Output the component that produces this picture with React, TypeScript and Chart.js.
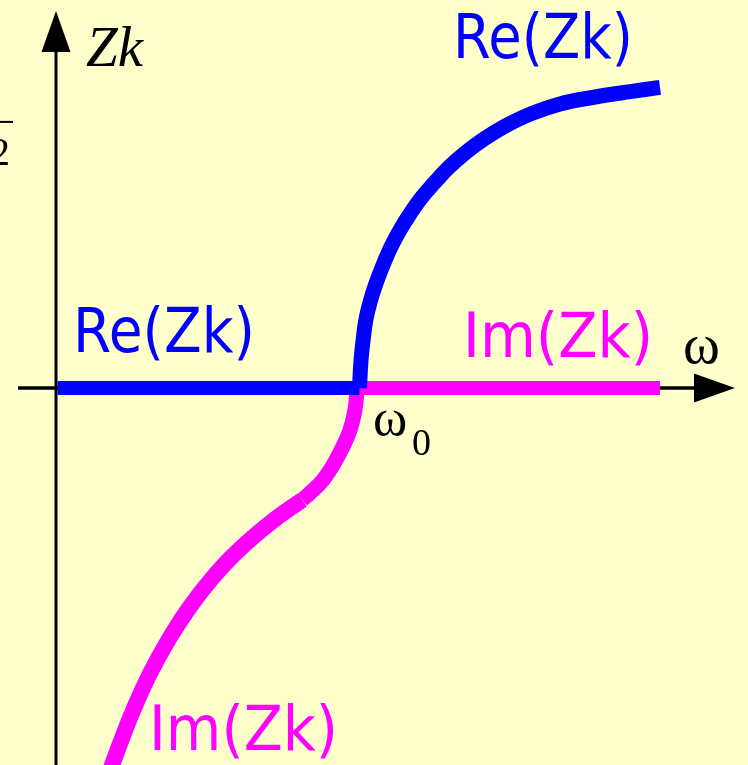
import React, { useEffect, useRef } from "react";
import { Chart, registerables } from "chart.js";

Chart.register(...registerables);

// Frequency axis: ω in units of the cut-off ω0; impedance Zk in arbitrary units.
const reFlatW = [0.005, 1.005];
const reFlatZ = [0, 0];

const reCurveW = [
  1.005, 1.01, 1.017, 1.026, 1.04, 1.06, 1.083, 1.109, 1.139, 1.172, 1.209,
  1.252, 1.298, 1.354, 1.417, 1.487, 1.57, 1.669, 1.785, 1.901, 2.0,
];
const reCurveZ = [
  0, 0.093, 0.16, 0.227, 0.287, 0.35, 0.41, 0.47, 0.527, 0.58, 0.633,
  0.683, 0.733, 0.783, 0.83, 0.873, 0.913, 0.947, 0.97, 0.988, 1.002,
];

const imFlatW = [1.0, 2.0];
const imFlatZ = [0, 0];

const imUpperW = [0.997, 0.99, 0.97, 0.927, 0.884, 0.841, 0.815];
const imUpperZ = [0, -0.073, -0.15, -0.24, -0.307, -0.35, -0.373];

const imLowerW = [0.815, 0.713, 0.598, 0.518, 0.443, 0.378, 0.312, 0.256, 0.214, 0.188, 0.177];
const imLowerZ = [-0.373, -0.447, -0.547, -0.633, -0.73, -0.83, -0.95, -1.073, -1.18, -1.25, -1.28];

const BG = "#FFFFCC";
const BLUE = "#0000FF";
const MAGENTA = "#FF00FF";
const LABEL_FONT = '"DejaVu Sans", sans-serif';
const MATH_FONT = '"Liberation Serif", "DejaVu Serif", serif';

const pts = (xs: number[], ys: number[]) => xs.map((x, i) => ({ x, y: ys[i] }));

const curve = (xs: number[], ys: number[], color: string, smooth: boolean, width = 15) => ({
  data: pts(xs, ys),
  borderColor: color,
  borderWidth: width,
  borderCapStyle: "butt" as const,
  borderJoinStyle: "round" as const,
  pointRadius: 0,
  tension: smooth ? 0.4 : 0,
  fill: false,
});

const backgroundPlugin = {
  id: "paper",
  beforeDraw(chart: any) {
    const { ctx, width, height } = chart;
    ctx.save();
    ctx.fillStyle = BG;
    ctx.fillRect(0, 0, width, height);
    ctx.restore();
  },
};

// Coordinate axes with arrow heads, drawn under the curves.
const axesPlugin = {
  id: "arrowAxes",
  beforeDatasetsDraw(chart: any) {
    const { ctx, scales, height } = chart;
    const xs = scales.x;
    const ys = scales.y;
    const x0 = xs.getPixelForValue(0);
    const y0 = ys.getPixelForValue(0);
    const xStart = xs.getPixelForValue(-0.1258);
    const xTip = xs.getPixelForValue(2.2483);
    const yTip = ys.getPixelForValue(1.2567);
    const head = 41;
    const half = 14.5;
    ctx.save();
    ctx.strokeStyle = "#000";
    ctx.fillStyle = "#000";
    ctx.lineWidth = 3.5;
    ctx.beginPath();
    ctx.moveTo(xStart, y0);
    ctx.lineTo(xTip - head + 2, y0);
    ctx.stroke();
    ctx.lineWidth = 3;
    ctx.beginPath();
    ctx.moveTo(x0, height + 2);
    ctx.lineTo(x0, yTip + head - 2);
    ctx.stroke();
    ctx.beginPath();
    ctx.moveTo(xTip, y0);
    ctx.lineTo(xTip - head, y0 - half);
    ctx.lineTo(xTip - head, y0 + half);
    ctx.closePath();
    ctx.fill();
    ctx.beginPath();
    ctx.moveTo(x0, yTip);
    ctx.lineTo(x0 - half, yTip + head);
    ctx.lineTo(x0 + half, yTip + head);
    ctx.closePath();
    ctx.fill();
    ctx.restore();
  },
};

// Curve names and axis symbols.
const labelsPlugin = {
  id: "curveLabels",
  afterDatasetsDraw(chart: any) {
    const { ctx, scales } = chart;
    const px = (w: number) => scales.x.getPixelForValue(w);
    const py = (z: number) => scales.y.getPixelForValue(z);
    ctx.save();
    ctx.textAlign = "left";
    ctx.textBaseline = "alphabetic";

    ctx.font = `62px ${LABEL_FONT}`;
    ctx.fillStyle = BLUE;
    ctx.fillText("Re(Zk)", px(1.3146), py(1.1), 180);
    ctx.fillText("Re(Zk)", px(0.0563), py(0.12), 182);
    ctx.fillStyle = MAGENTA;
    ctx.fillText("Im(Zk)", px(1.3477), py(0.1033), 190);
    ctx.fillText("Im(Zk)", px(0.308), py(-1.2067), 189);

    ctx.fillStyle = "#000";
    ctx.font = `italic 57px ${MATH_FONT}`;
    ctx.fillText("Zk", px(0.0993), py(1.0733));
    ctx.font = `56px ${MATH_FONT}`;
    ctx.fillText("ω", px(2.0762), py(0.0833));
    ctx.font = `52px ${MATH_FONT}`;
    ctx.fillText("ω", px(1.0497), py(-0.157));
    ctx.font = `38px ${MATH_FONT}`;
    ctx.fillText("0", px(1.1788), py(-0.223));

    // fragment of the √2 scale mark at the left margin
    ctx.font = `40px ${MATH_FONT}`;
    ctx.textAlign = "right";
    ctx.fillText("2", px(-0.1523), py(0.743));
    ctx.lineWidth = 2;
    ctx.beginPath();
    ctx.moveTo(px(-0.1854), py(0.887));
    ctx.lineTo(px(-0.1424), py(0.887));
    ctx.stroke();
    ctx.restore();
  },
};

export default function App() {
  const canvasRef = useRef<HTMLCanvasElement | null>(null);

  useEffect(() => {
    document.body.style.margin = "0";
    document.body.style.background = BG;
    const canvas = canvasRef.current;
    if (!canvas) return;
    const chart = new Chart(canvas, {
      type: "line",
      data: {
        datasets: [
          curve(reFlatW, reFlatZ, BLUE, false, 14),
          curve(reCurveW, reCurveZ, BLUE, true),
          curve(imFlatW, imFlatZ, MAGENTA, false, 14),
          curve(imUpperW, imUpperZ, MAGENTA, true),
          curve(imLowerW, imLowerZ, MAGENTA, true, 16),
        ] as any,
      },
      options: {
        animation: false,
        responsive: false,
        maintainAspectRatio: false,
        devicePixelRatio: 1,
        events: [],
        layout: { padding: 0 },
        plugins: { legend: { display: false }, tooltip: { enabled: false } },
        scales: {
          x: { type: "linear", min: -0.18543, max: 2.29139, display: false },
          y: { type: "linear", min: -1.25667, max: 1.29333, display: false },
        },
      },
      plugins: [backgroundPlugin, axesPlugin, labelsPlugin],
    });
    return () => chart.destroy();
  }, []);

  return (
    <div style={{ position: "fixed", left: 0, top: 0, width: 748, height: 765 }}>
      <canvas ref={canvasRef} width={748} height={765} />
    </div>
  );
}
